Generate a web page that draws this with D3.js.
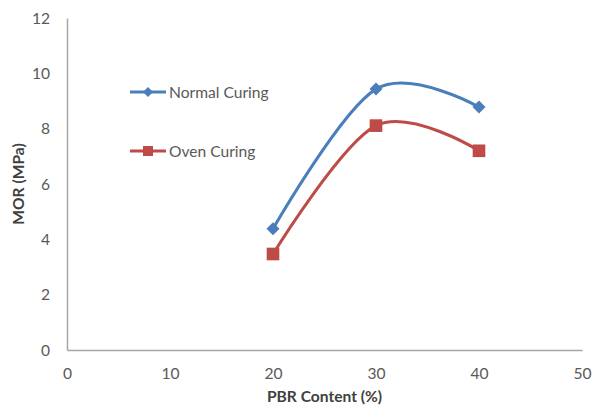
<!DOCTYPE html>
<html>
<head>
<meta charset="utf-8">
<script src="https://cdn.jsdelivr.net/npm/d3@7"></script>
<style>
  html, body { margin: 0; padding: 0; background: #fff; }
  svg { display: block; font-family: Lato, "Open Sans", sans-serif; }
</style>
</head>
<body>
<svg id="chart" width="593" height="408"></svg>
<script>
// PBR content (%) and modulus of rupture (MPa) per curing regime
const pbrContent = [20, 30, 40];
const normalCuring = [4.38, 9.43, 8.78];
const ovenCuring = [3.47, 8.11, 7.20];
const seriesNames = ["Normal Curing", "Oven Curing"];
const xTicks = [0, 10, 20, 30, 40, 50];
const yTicks = [0, 2, 4, 6, 8, 10, 12];

const svg = d3.select("#chart");
const margin = { left: 67, right: 11, top: 18, bottom: 58 };
const W = 593, H = 408;

const x = d3.scaleLinear().domain([0, 50]).range([margin.left, W - margin.right]);
const y = d3.scaleLinear().domain([0, 12]).range([H - margin.bottom, margin.top]);

const axisColor = "#a6a6a6";
const textColor = "#595959";
const fontSize = "15.6px";

// Axes (no tick marks, only labels)
const xAxis = d3.axisBottom(x).tickValues(xTicks).tickSize(0).tickPadding(21).tickFormat(d3.format("d"));
const yAxis = d3.axisLeft(y).tickValues(yTicks).tickSize(0).tickPadding(17).tickFormat(d3.format("d"));

const gx = svg.append("g").attr("transform", `translate(0,${y(0)})`).call(xAxis);
const gy = svg.append("g").attr("transform", `translate(${x(0)},0)`).call(yAxis);
[gx, gy].forEach(g => {
  g.select(".domain").attr("stroke", axisColor).attr("stroke-width", 1.5);
  g.selectAll("text").attr("fill", textColor).style("font-size", fontSize).style("font-family", "Lato, sans-serif");
});
gx.selectAll("text").attr("dy", "0.5em");

// Axis titles
svg.append("text")
  .attr("x", (x(0) + x(50)) / 2).attr("y", 402)
  .attr("text-anchor", "middle")
  .attr("fill", "#404040")
  .style("font-size", fontSize).style("font-weight", "bold")
  .text("PBR Content (%)");

svg.append("text")
  .attr("transform", `translate(24,${(y(0) + y(12)) / 2}) rotate(-90)`)
  .attr("text-anchor", "middle")
  .attr("fill", "#404040")
  .style("font-size", fontSize).style("font-weight", "bold")
  .text("MOR (MPa)");

const colors = ["#4a7ebb", "#be4b48"];
const data = [normalCuring, ovenCuring];

const line = d3.line()
  .x((d, i) => x(pbrContent[i]))
  .y(d => y(d))
  .curve(d3.curveCardinal.tension(0));

// Diamond = square turned 45 degrees
const markerPath = [d3.symbol().type(d3.symbolSquare).size(85)(), d3.symbol().type(d3.symbolSquare).size(160)()];
const markerRot = [45, 0];

data.forEach((vals, s) => {
  svg.append("path")
    .attr("d", line(vals))
    .attr("fill", "none")
    .attr("stroke", colors[s])
    .attr("stroke-width", 3)
    .attr("stroke-linecap", "round");
  svg.selectAll(null)
    .data(vals)
    .enter().append("path")
    .attr("d", markerPath[s])
    .attr("transform", (d, i) => `translate(${x(pbrContent[i])},${y(d)}) rotate(${markerRot[s]})`)
    .attr("fill", colors[s]);
});

// Legend
const legendY = [92, 151];
const legendMarker = [d3.symbol().type(d3.symbolSquare).size(50)(), d3.symbol().type(d3.symbolSquare).size(100)()];
seriesNames.forEach((name, s) => {
  const g = svg.append("g").attr("transform", `translate(130,${legendY[s]})`);
  g.append("line").attr("x1", 0).attr("x2", 36).attr("y1", 0).attr("y2", 0)
    .attr("stroke", colors[s]).attr("stroke-width", 3);
  g.append("path").attr("d", legendMarker[s])
    .attr("transform", `translate(18,0) rotate(${markerRot[s]})`).attr("fill", colors[s]);
  g.append("text").attr("x", 39).attr("y", 5.5)
    .attr("fill", textColor)
    .style("font-size", fontSize)
    .text(name);
});
</script>
</body>
</html>
